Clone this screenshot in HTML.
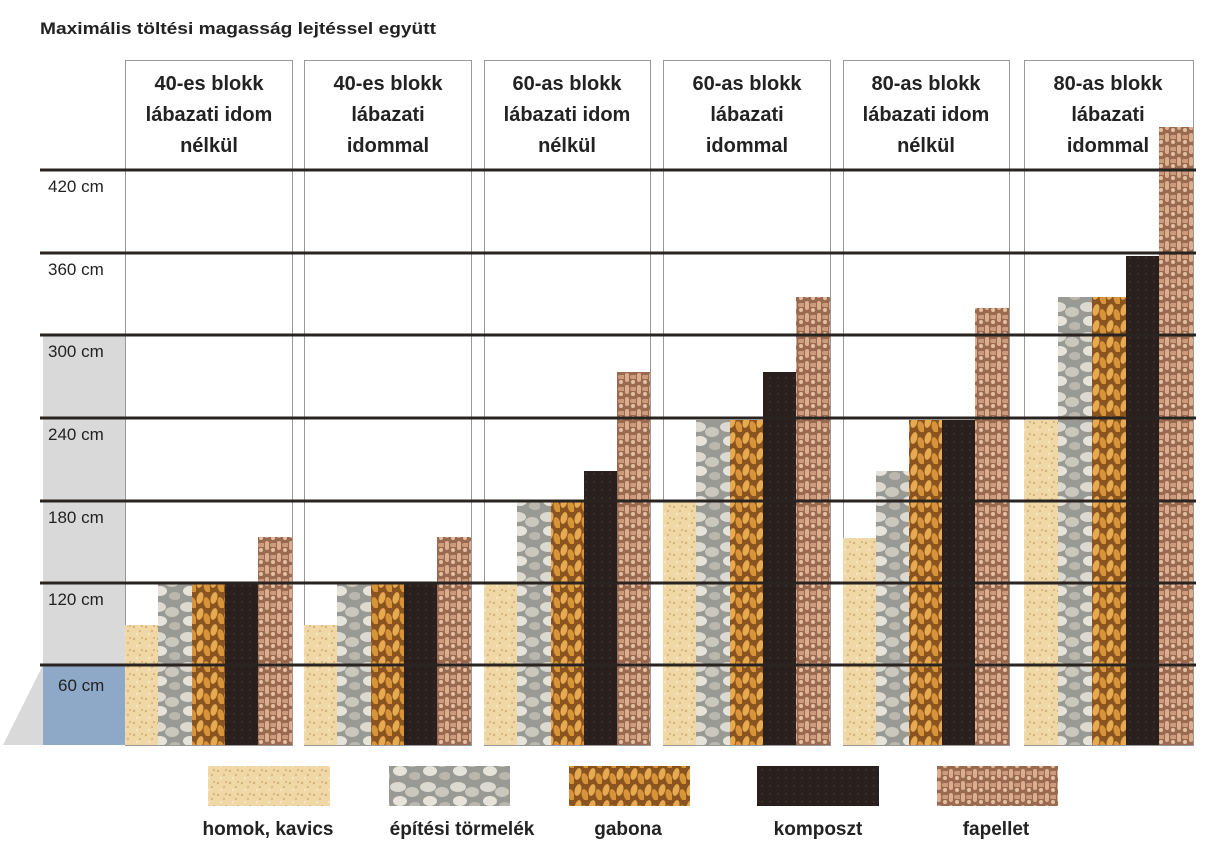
<!DOCTYPE html>
<html><head><meta charset="utf-8"><style>
body{margin:0;background:#fff}
svg{display:block}
text{font-family:"Liberation Sans",sans-serif}
</style></head><body>
<svg width="1231" height="855" viewBox="0 0 1231 855" xmlns="http://www.w3.org/2000/svg">
<defs>
<pattern id="homok" width="12" height="12" patternUnits="userSpaceOnUse">
<rect width="12" height="12" fill="#efd7a6"/>
<circle cx="2" cy="3" r="1" fill="#c9a56a"/><circle cx="8" cy="7" r="1.1" fill="#d8b47a"/><circle cx="5" cy="10" r="0.9" fill="#fff3d6"/><circle cx="10" cy="2" r="0.8" fill="#b8935a"/>
</pattern>
<pattern id="torm" width="30" height="30" patternUnits="userSpaceOnUse">
<rect width="30" height="30" fill="#9a9a94"/>
<ellipse cx="8" cy="7" rx="8" ry="5" fill="#dcdad0"/><ellipse cx="22" cy="12" rx="7" ry="5" fill="#cac8bc"/><ellipse cx="10" cy="21" rx="7" ry="5" fill="#e6e4da"/><ellipse cx="25" cy="26" rx="6" ry="4" fill="#bab8ae"/>
</pattern>
<pattern id="gabona" width="14" height="16" patternUnits="userSpaceOnUse">
<rect width="14" height="16" fill="#8a5420"/>
<ellipse cx="4" cy="6" rx="3.2" ry="6" fill="#e8aa50" transform="rotate(15 4 6)"/><ellipse cx="11" cy="11" rx="3.2" ry="6" fill="#d89438" transform="rotate(-15 11 11)"/>
</pattern>
<pattern id="komp" width="8" height="8" patternUnits="userSpaceOnUse">
<rect width="8" height="8" fill="#2a201e"/><circle cx="2" cy="2" r="0.8" fill="#4a3a36"/><circle cx="6" cy="5" r="0.7" fill="#1a1212"/>
</pattern>
<pattern id="pellet" width="12" height="12" patternUnits="userSpaceOnUse">
<rect width="12" height="12" fill="#9a6a50"/>
<rect x="1" y="1" width="4" height="9" rx="2" fill="#dcae90"/><rect x="6" y="3" width="9" height="4" rx="2" fill="#cc9a7c"/><rect x="7" y="8" width="4" height="4" rx="2" fill="#e6c0a2"/>
</pattern>
</defs>
<text x="40" y="34" font-size="17" font-weight="bold" fill="#222" textLength="396" lengthAdjust="spacingAndGlyphs">Maximális töltési magasság lejtéssel együtt</text>
<rect x="43" y="335" width="82" height="330" fill="#d9d9d9"/>
<polygon points="43,665 125,665 165,745 3,745" fill="#d9d9d9"/>
<rect x="43" y="665" width="82" height="80" fill="#8ea9c8"/>
<g fill="none" stroke="#999" stroke-width="1">
<rect x="125.5" y="60.5" width="167" height="685"/>
<rect x="304.5" y="60.5" width="167" height="685"/>
<rect x="484.5" y="60.5" width="166" height="685"/>
<rect x="663.5" y="60.5" width="167" height="685"/>
<rect x="843.5" y="60.5" width="166" height="685"/>
<rect x="1024.5" y="60.5" width="169" height="685"/>
</g>
<g>
<rect x="125" y="625" width="33" height="120" fill="url(#homok)"/>
<rect x="158" y="583" width="34" height="162" fill="url(#torm)"/>
<rect x="192" y="583" width="33" height="162" fill="url(#gabona)"/>
<rect x="225" y="583" width="33" height="162" fill="url(#komp)"/>
<rect x="258" y="537" width="34" height="208" fill="url(#pellet)"/>

<rect x="304" y="625" width="33" height="120" fill="url(#homok)"/>
<rect x="337" y="583" width="34" height="162" fill="url(#torm)"/>
<rect x="371" y="583" width="33" height="162" fill="url(#gabona)"/>
<rect x="404" y="583" width="33" height="162" fill="url(#komp)"/>
<rect x="437" y="537" width="34" height="208" fill="url(#pellet)"/>

<rect x="484" y="583" width="33" height="162" fill="url(#homok)"/>
<rect x="517" y="501" width="34" height="244" fill="url(#torm)"/>
<rect x="551" y="501" width="33" height="244" fill="url(#gabona)"/>
<rect x="584" y="471" width="33" height="274" fill="url(#komp)"/>
<rect x="617" y="372" width="33" height="373" fill="url(#pellet)"/>

<rect x="663" y="501" width="33" height="244" fill="url(#homok)"/>
<rect x="696" y="420" width="34" height="325" fill="url(#torm)"/>
<rect x="730" y="420" width="33" height="325" fill="url(#gabona)"/>
<rect x="763" y="372" width="33" height="373" fill="url(#komp)"/>
<rect x="796" y="297" width="34" height="448" fill="url(#pellet)"/>

<rect x="843" y="538" width="33" height="207" fill="url(#homok)"/>
<rect x="876" y="471" width="33" height="274" fill="url(#torm)"/>
<rect x="909" y="420" width="33" height="325" fill="url(#gabona)"/>
<rect x="942" y="420" width="33" height="325" fill="url(#komp)"/>
<rect x="975" y="308" width="34" height="437" fill="url(#pellet)"/>

<rect x="1024" y="420" width="34" height="325" fill="url(#homok)"/>
<rect x="1058" y="297" width="34" height="448" fill="url(#torm)"/>
<rect x="1092" y="297" width="34" height="448" fill="url(#gabona)"/>
<rect x="1126" y="256" width="33" height="489" fill="url(#komp)"/>
<rect x="1159" y="127" width="34" height="618" fill="url(#pellet)"/>
</g>
<g stroke="#2a2420" stroke-width="3">
<line x1="40" y1="170" x2="1196" y2="170"/>
<line x1="40" y1="253" x2="1196" y2="253"/>
<line x1="40" y1="335" x2="1196" y2="335"/>
<line x1="40" y1="418" x2="1196" y2="418"/>
<line x1="40" y1="501" x2="1196" y2="501"/>
<line x1="40" y1="583" x2="1196" y2="583"/>
<line x1="40" y1="665" x2="1196" y2="665"/>
</g>
<g font-size="17" fill="#222">
<text x="48" y="192">420 cm</text>
<text x="48" y="275">360 cm</text>
<text x="48" y="357">300 cm</text>
<text x="48" y="440">240 cm</text>
<text x="48" y="523">180 cm</text>
<text x="48" y="605">120 cm</text>
<text x="58" y="691">60 cm</text>
</g>
<g font-size="20" font-weight="bold" fill="#222" text-anchor="middle">
<text x="209" y="90">40-es blokk</text><text x="209" y="121">lábazati idom</text><text x="209" y="152">nélkül</text>
<text x="388" y="90">40-es blokk</text><text x="388" y="121">lábazati</text><text x="388" y="152">idommal</text>
<text x="567" y="90">60-as blokk</text><text x="567" y="121">lábazati idom</text><text x="567" y="152">nélkül</text>
<text x="747" y="90">60-as blokk</text><text x="747" y="121">lábazati</text><text x="747" y="152">idommal</text>
<text x="926" y="90">80-as blokk</text><text x="926" y="121">lábazati idom</text><text x="926" y="152">nélkül</text>
<text x="1108" y="90">80-as blokk</text><text x="1108" y="121">lábazati</text><text x="1108" y="152">idommal</text>
</g>
<rect x="208" y="766" width="122" height="40" fill="url(#homok)"/>
<rect x="389" y="766" width="121" height="40" fill="url(#torm)"/>
<rect x="569" y="766" width="121" height="40" fill="url(#gabona)"/>
<rect x="757" y="766" width="122" height="40" fill="url(#komp)"/>
<rect x="937" y="766" width="121" height="40" fill="url(#pellet)"/>
<g font-size="19" font-weight="bold" fill="#222" text-anchor="middle">
<text x="268" y="835">homok, kavics</text>
<text x="462" y="835">építési törmelék</text>
<text x="628" y="835">gabona</text>
<text x="818" y="835">komposzt</text>
<text x="996" y="835">fapellet</text>
</g>
</svg>
</body></html>
